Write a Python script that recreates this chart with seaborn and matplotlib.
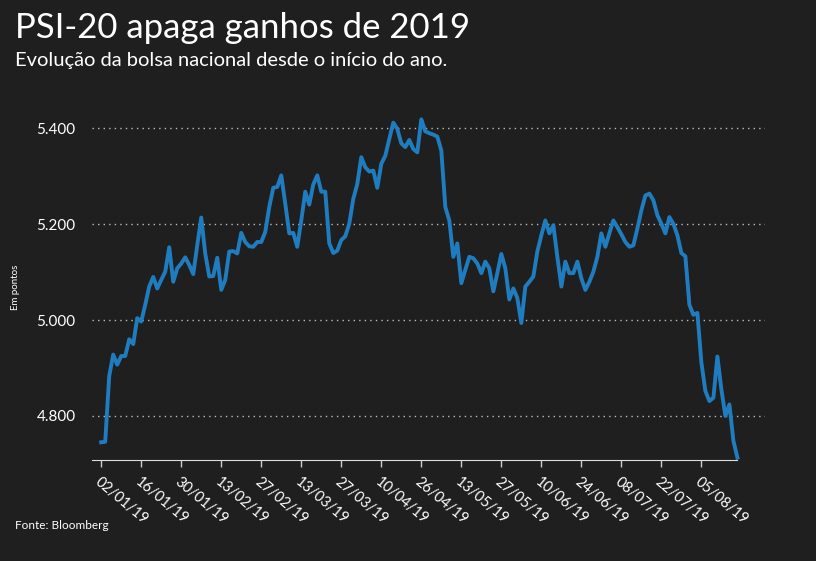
import matplotlib
matplotlib.use("Agg")
import matplotlib.pyplot as plt
import seaborn as sns
import pandas as pd

values = [4745,4746,4883,4928,4907,4925,4925,4960,4950,5004,
          4997,5032,5070,5090,5066,5084,5101,5152,5080,5108,
          5118,5131,5115,5096,5156,5214,5139,5091,5092,5130,
          5063,5084,5143,5144,5139,5182,5163,5154,5153,5163,
          5163,5184,5236,5276,5278,5302,5243,5181,5182,5153,
          5208,5268,5241,5283,5302,5268,5268,5160,5140,5145,
          5167,5175,5201,5253,5284,5340,5319,5310,5312,5276,
          5326,5343,5378,5412,5399,5369,5361,5376,5357,5350,
          5419,5394,5390,5387,5383,5354,5236,5208,5132,5160,
          5077,5105,5132,5129,5118,5098,5122,5108,5060,5098,
          5138,5108,5043,5066,5046,4994,5070,5080,5091,5143,
          5177,5208,5181,5198,5132,5070,5122,5098,5098,5122,
          5087,5063,5080,5101,5132,5181,5153,5181,5208,5194,
          5179,5163,5153,5156,5191,5229,5260,5264,5250,5219,
          5201,5181,5215,5201,5177,5140,5133,5032,5011,5015,
          4911,4852,4831,4838,4924,4855,4800,4824,4748,4713]
tick_labels = ["02/01/19","16/01/19","30/01/19","13/02/19","27/02/19","13/03/19",
               "27/03/19","10/04/19","26/04/19","13/05/19","27/05/19","10/06/19",
               "24/06/19","08/07/19","22/07/19","05/08/19"]
y_ticks = [4800, 5000, 5200, 5400]
y_tick_labels = ["4.800", "5.000", "5.200", "5.400"]

df = pd.DataFrame({"dia": range(len(values)), "valor": values})
bg = "#1f1f1f"
plt.rcParams["font.family"] = "Lato"
fig = plt.figure(figsize=(8.16, 5.61), dpi=100, facecolor=bg)
ax = fig.add_axes([0.113, 0.18, 0.825, 0.615], facecolor=bg)
sns.lineplot(data=df, x="dia", y="valor", ax=ax, color="#1f7dbf", linewidth=2.8)
ax.set_xlim(-2.25, 166)
ax.set_ylim(4708, 5428)
ax.set_yticks(y_ticks)
ax.set_yticklabels(y_tick_labels, color="white", fontsize=11)
ax.set_xticks(range(0, len(tick_labels) * 10, 10))
ax.set_xticklabels(tick_labels, rotation=-40, ha="left", rotation_mode="anchor",
                   color="white", fontsize=10.5)
for lbl in ax.get_xticklabels():
    lbl.set_x(lbl.get_position()[0])
ax.tick_params(axis="y", length=0, pad=12)
ax.tick_params(axis="x", colors="#cccccc", length=5, width=1, labelcolor="white", pad=6)
for y in y_ticks:
    ax.axhline(y, color="#bbbbbb", linestyle=(0, (1, 3)), linewidth=1, zorder=0)
for s in ["top", "right", "left"]:
    ax.spines[s].set_visible(False)
ax.spines["bottom"].set_color("#dddddd")
ax.spines["bottom"].set_bounds(-2.25, 159)
ax.set_xlabel("")
ax.set_ylabel("Em pontos", color="white", fontsize=7, labelpad=12)
fig.text(0.018, 0.95, "PSI-20 apaga ganhos de 2019", color="white", fontsize=25, va="center")
fig.text(0.018, 0.893, "Evolução da bolsa nacional desde o início do ano.", color="white", fontsize=14.5, va="center")
fig.text(0.018, 0.063, "Fonte: Bloomberg", color="white", fontsize=8.5, va="center")
fig.savefig("out.png", dpi=100, facecolor=bg)
